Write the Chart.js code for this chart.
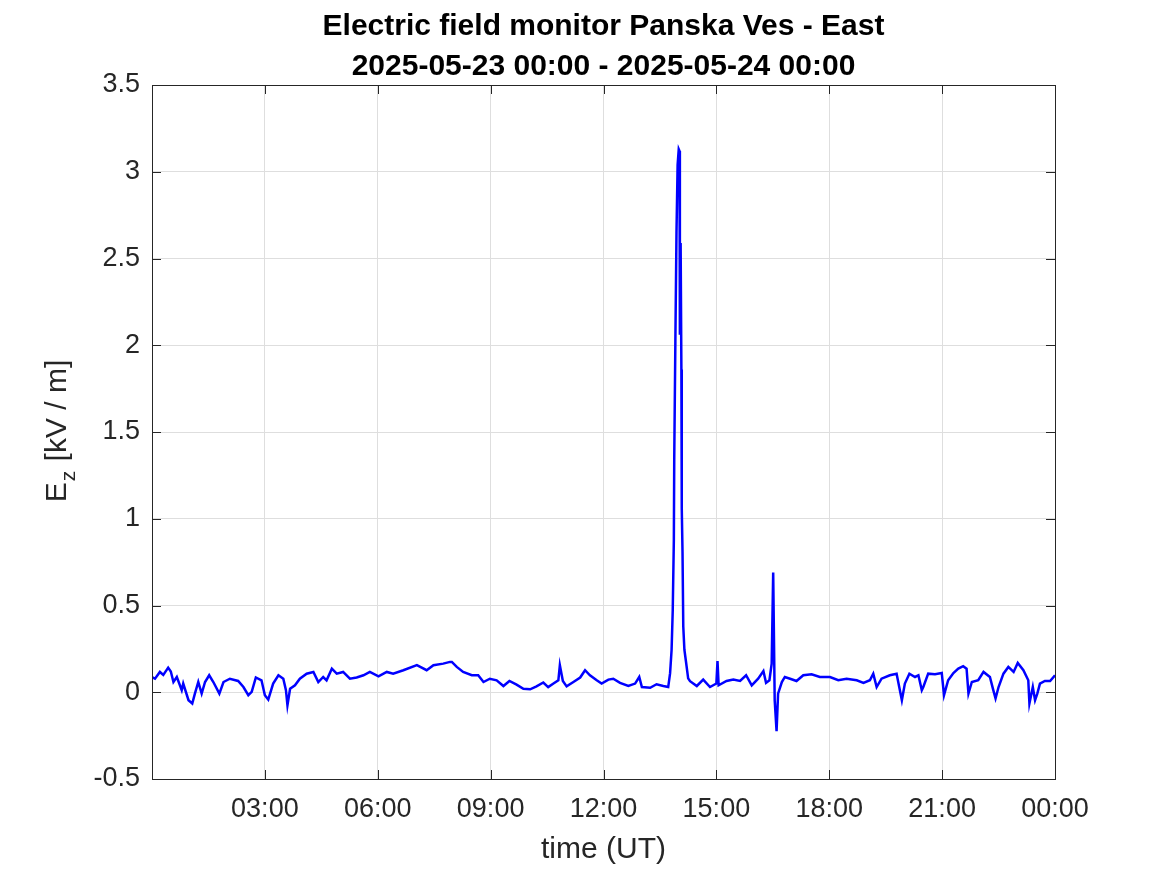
<!DOCTYPE html>
<html>
<head>
<meta charset="utf-8">
<script src="https://cdn.jsdelivr.net/npm/chart.js@4/dist/chart.umd.min.js"></script>
<style>
  html, body { margin: 0; padding: 0; background: #fff; }
  #wrap { width: 1167px; height: 875px; }
</style>
</head>
<body>
<div id="wrap"><canvas id="chart" width="1167" height="875"></canvas></div>
<script>
// time of day in hours (UT) and vertical field Ez in kV/m
const hours = [
  0.00, 0.08, 0.21, 0.30, 0.43, 0.50, 0.57, 0.66, 0.79, 0.83, 0.97, 1.07, 1.14, 1.23, 1.32, 1.41,
  1.52, 1.63, 1.79, 1.90, 2.07, 2.29, 2.43, 2.56, 2.65, 2.76, 2.91, 3.00, 3.09, 3.22, 3.36, 3.49,
  3.56, 3.60, 3.67, 3.80, 3.93, 4.11, 4.29, 4.42, 4.55, 4.64, 4.78, 4.91, 5.08, 5.26, 5.44, 5.62,
  5.79, 6.02, 6.24, 6.41, 6.68, 7.04, 7.30, 7.48, 7.74, 7.92, 7.97, 8.10, 8.27, 8.50, 8.67, 8.81,
  8.98, 9.16, 9.34, 9.50, 9.69, 9.87, 10.05, 10.22, 10.40, 10.53, 10.67, 10.80, 10.84, 10.92, 11.02, 11.20,
  11.38, 11.51, 11.64, 11.82, 11.95, 12.13, 12.26, 12.44, 12.66, 12.84, 12.95, 13.02, 13.24, 13.41, 13.59, 13.72,
  13.77, 13.81, 13.84, 13.87, 13.88, 13.91, 13.94, 13.97, 14.00, 14.02, 14.03, 14.05, 14.07, 14.08, 14.10, 14.12,
  14.15, 14.19, 14.25, 14.30, 14.48, 14.65, 14.83, 15.00, 15.03, 15.06, 15.27, 15.45, 15.63, 15.79, 15.94, 16.11,
  16.25, 16.32, 16.41, 16.47, 16.51, 16.55, 16.60, 16.64, 16.74, 16.82, 16.96, 17.13, 17.31, 17.53, 17.75, 18.02,
  18.24, 18.46, 18.73, 18.91, 19.08, 19.17, 19.26, 19.39, 19.61, 19.79, 19.86, 19.93, 20.01, 20.13, 20.28, 20.37,
  20.46, 20.50, 20.63, 20.81, 20.99, 21.05, 21.16, 21.30, 21.43, 21.56, 21.65, 21.70, 21.79, 21.96, 22.10, 22.27,
  22.36, 22.42, 22.50, 22.63, 22.76, 22.90, 23.01, 23.16, 23.29, 23.32, 23.41, 23.47, 23.53, 23.60, 23.73, 23.87,
  24.00
];
const ez = [
  0.088, 0.078, 0.117, 0.100, 0.142, 0.120, 0.059, 0.088, 0.012, 0.050, -0.046, -0.065, -0.008, 0.059, -0.008, 0.059,
  0.098, 0.059, -0.008, 0.059, 0.078, 0.065, 0.030, -0.017, 0.002, 0.085, 0.069, -0.017, -0.042, 0.050, 0.098, 0.078,
  0.012, -0.075, 0.020, 0.040, 0.078, 0.107, 0.117, 0.059, 0.088, 0.069, 0.136, 0.107, 0.117, 0.078, 0.085, 0.098,
  0.117, 0.092, 0.117, 0.107, 0.127, 0.156, 0.127, 0.156, 0.165, 0.175, 0.175, 0.146, 0.117, 0.098, 0.098, 0.059,
  0.078, 0.069, 0.036, 0.065, 0.044, 0.020, 0.017, 0.034, 0.056, 0.030, 0.050, 0.069, 0.156, 0.065, 0.034, 0.059,
  0.085, 0.127, 0.098, 0.069, 0.050, 0.073, 0.078, 0.054, 0.036, 0.050, 0.088, 0.030, 0.026, 0.046, 0.036, 0.030,
  0.110, 0.245, 0.470, 0.880, 1.340, 2.020, 2.650, 3.040, 3.130, 3.120, 2.060, 2.590, 1.860, 1.060, 0.810, 0.380,
  0.245, 0.180, 0.080, 0.064, 0.036, 0.073, 0.030, 0.050, 0.180, 0.040, 0.065, 0.073, 0.065, 0.098, 0.040, 0.078,
  0.122, 0.054, 0.069, 0.165, 0.690, -0.046, -0.225, -0.008, 0.059, 0.088, 0.078, 0.065, 0.098, 0.104, 0.088, 0.088,
  0.069, 0.078, 0.069, 0.054, 0.069, 0.107, 0.030, 0.078, 0.098, 0.107, 0.030, -0.046, 0.050, 0.107, 0.088, 0.098,
  0.012, 0.030, 0.107, 0.104, 0.111, -0.017, 0.069, 0.111, 0.136, 0.150, 0.136, -0.008, 0.059, 0.069, 0.117, 0.088,
  0.012, -0.036, 0.030, 0.107, 0.146, 0.117, 0.169, 0.127, 0.069, -0.065, 0.030, -0.046, -0.008, 0.050, 0.065, 0.065,
  0.098
];
const titleLines = ['Electric field monitor Panska Ves - East', '2025-05-23 00:00 - 2025-05-24 00:00'];
const xLabel = 'time (UT)';
const yTicks = [-0.5, 0, 0.5, 1, 1.5, 2, 2.5, 3, 3.5];

const axisColor = '#262626';
const fontFam = '"Liberation Sans", Arial, Helvetica, sans-serif';

// draws the titles, axis labels (E with subscript z) and the inward MATLAB style ticks
const decorations = {
  id: 'decorations',
  afterDraw(chart) {
    const ctx = chart.ctx;
    const area = chart.chartArea;
    const xs = chart.scales.x, ys = chart.scales.y;
    ctx.save();

    // inward ticks on all four sides
    ctx.strokeStyle = axisColor;
    ctx.lineWidth = 1;
    ctx.beginPath();
    xs.ticks.forEach(t => {
      const px = Math.round(xs.getPixelForValue(t.value)) + 0.5;
      ctx.moveTo(px, area.bottom); ctx.lineTo(px, area.bottom - 9);
      ctx.moveTo(px, area.top); ctx.lineTo(px, area.top + 9);
    });
    ys.ticks.forEach(t => {
      const py = Math.round(ys.getPixelForValue(t.value)) + 0.5;
      ctx.moveTo(area.left, py); ctx.lineTo(area.left + 9, py);
      ctx.moveTo(area.right, py); ctx.lineTo(area.right - 9, py);
    });
    ctx.stroke();
    ctx.strokeRect(Math.round(area.left) + 0.5, Math.round(area.top) + 0.5,
      Math.round(area.right - area.left), Math.round(area.bottom - area.top));

    // title
    const cx = (area.left + area.right) / 2;
    ctx.fillStyle = '#000';
    ctx.font = 'bold 30px ' + fontFam;
    ctx.textAlign = 'center';
    ctx.textBaseline = 'alphabetic';
    ctx.fillText(titleLines[0], cx, 35);
    ctx.fillText(titleLines[1], cx, 75);

    // x label
    ctx.fillStyle = axisColor;
    ctx.font = '30px ' + fontFam;
    ctx.fillText(xLabel, cx, 858);

    // y label: E_z [kV / m]
    ctx.translate(66, (area.top + area.bottom) / 2);
    ctx.rotate(-Math.PI / 2);
    ctx.textAlign = 'left';
    const big = '30px ' + fontFam, small = '21px ' + fontFam;
    ctx.font = big;
    const wE = ctx.measureText('E').width;
    const rest = ' [kV / m]';
    const wR = ctx.measureText(rest).width;
    ctx.font = small;
    const wZ = ctx.measureText('z').width;
    const x0 = -(wE + wZ + wR) / 2;
    ctx.font = big;
    ctx.fillText('E', x0, 0);
    ctx.font = small;
    ctx.fillText('z', x0 + wE + 1, 9);
    ctx.font = big;
    ctx.fillText(rest, x0 + wE + wZ + 2, 0);
    ctx.restore();
  }
};

const points = hours.map((h, i) => ({ x: h, y: ez[i] }));

new Chart(document.getElementById('chart'), {
  type: 'line',
  data: {
    datasets: [{
      data: points,
      borderColor: '#0000ff',
      borderWidth: 2.5,
      pointRadius: 0,
      tension: 0,
      fill: false
    }]
  },
  options: {
    responsive: false,
    animation: false,
    layout: { padding: { left: 0, top: 85, right: 112, bottom: 0 } },
    plugins: {
      legend: { display: false },
      title: { display: false },
      tooltip: { enabled: false }
    },
    scales: {
      x: {
        type: 'linear',
        min: 0,
        max: 24,
        border: { display: false },
        grid: { color: '#dedede', tickLength: 0, drawTicks: false },
        ticks: {
          stepSize: 3,
          color: axisColor,
          font: { size: 27, family: fontFam },
          padding: 14,
          maxRotation: 0,
          callback: v => v === 0 ? '' : String(v % 24).padStart(2, '0') + ':00'
        },
        afterFit: s => { s.height = 96; }
      },
      y: {
        min: -0.5,
        max: 3.5,
        border: { display: false },
        grid: { color: '#dedede', tickLength: 0, drawTicks: false },
        afterBuildTicks: s => { s.ticks = yTicks.map(v => ({ value: v })); },
        ticks: {
          color: axisColor,
          font: { size: 27, family: fontFam },
          padding: 12,
          callback: v => String(v)
        },
        afterFit: s => { s.width = 152; }
      }
    }
  },
  plugins: [decorations]
});
</script>
</body>
</html>
